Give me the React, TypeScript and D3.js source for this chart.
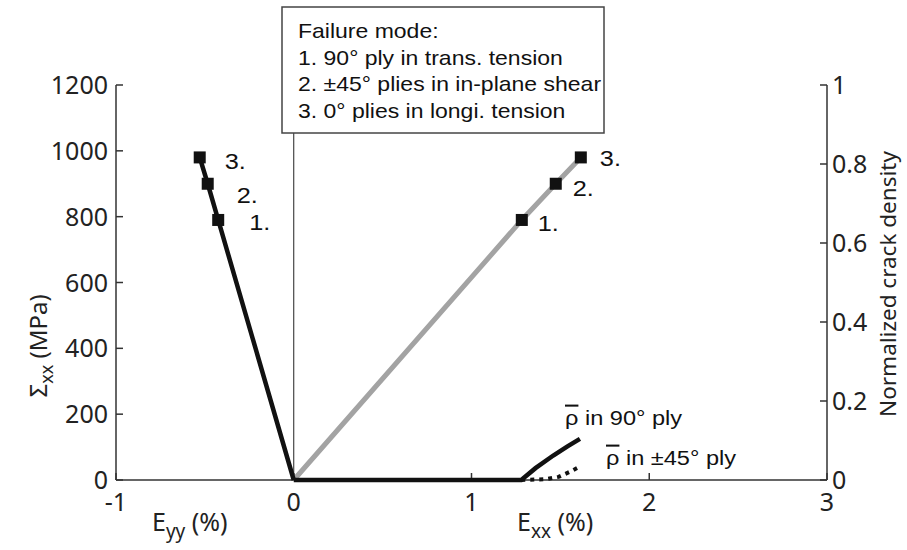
import * as d3 from "d3";

// left branch: transverse strain vs applied stress
const eyyValues = [0, -0.425, -0.484, -0.529];
const sigmaLeft = [0, 790, 900, 980];
// right branch: longitudinal strain vs applied stress
const exxValues = [0, 1.283, 1.474, 1.615];
const sigmaRight = [0, 790, 900, 980];
const failureLabels = ["1.", "2.", "3."];

// normalized crack density curves
const rho90Exx = [0, 1.28, 1.36, 1.46, 1.54, 1.61];
const rho90Values = [0, 0, 0.03, 0.062, 0.085, 0.104];
const rho45Exx = [1.28, 1.42, 1.49, 1.55, 1.61];
const rho45Values = [0, 0.002, 0.008, 0.02, 0.034];

const xTicks = [-1, 0, 1, 2, 3];
const yTicks = [0, 200, 400, 600, 800, 1000, 1200];
const yRightTicks = [0, 0.2, 0.4, 0.6, 0.8, 1];
const legendLines = [
  "Failure mode:",
  "1. 90° ply in trans. tension",
  "2. ±45° plies in in-plane shear",
  "3. 0° plies in longi. tension",
];

const width = 907;
const height = 550;
const margin = { top: 85, right: 80, bottom: 70, left: 116 };
const tickFont = "'Noto Sans', sans-serif";
const arialFont = "'Liberation Sans', Arial, sans-serif";
const STRETCH = 1.15;

type Pt = [number, number];

function Stretched({
  x,
  y,
  size,
  children,
}: {
  x: number;
  y: number;
  size: number;
  children: React.ReactNode;
}) {
  return (
    <g transform={`translate(${x},${y}) scale(${STRETCH},1)`}>
      <text fontFamily={arialFont} fontSize={size} fill="#111">
        {children}
      </text>
    </g>
  );
}

export default function App() {
  const x = d3
    .scaleLinear()
    .domain([-1, 3])
    .range([margin.left, width - margin.right]);
  const y = d3
    .scaleLinear()
    .domain([0, 1200])
    .range([height - margin.bottom, margin.top]);
  const yR = d3
    .scaleLinear()
    .domain([0, 1])
    .range([height - margin.bottom, margin.top]);

  const line = d3
    .line<Pt>()
    .x((d) => d[0])
    .y((d) => d[1]);

  const leftPts: Pt[] = eyyValues.map((v, i) => [x(v), y(sigmaLeft[i])]);
  const rightPts: Pt[] = exxValues.map((v, i) => [x(v), y(sigmaRight[i])]);
  const rho90Pts: Pt[] = rho90Exx.map((v, i) => [x(v), yR(rho90Values[i])]);
  const rho45Pts: Pt[] = rho45Exx.map((v, i) => [x(v), yR(rho45Values[i])]);

  const x0 = x(0);
  const yBase = y(0);
  const xL = x(-1);
  const xR = x(3);
  const boxBottom = 133;

  const leftOffsets: Pt[] = [
    [31, 10],
    [29, 19],
    [25, 12],
  ];
  const rightOffsets: Pt[] = [
    [16, 11],
    [17, 12],
    [19, 9],
  ];

  return (
    <svg
      width={width}
      height={height}
      style={{ position: "absolute", left: 0, top: 0, background: "#fff" }}
    >
      {/* axes */}
      <g stroke="#333" strokeWidth={1.5} fill="none">
        <line x1={xL} x2={xL} y1={yBase} y2={y(1200)} />
        <line x1={xR} x2={xR} y1={yBase} y2={yR(1)} />
        <line x1={xL} x2={xR} y1={yBase} y2={yBase} />
        {yTicks.map((t) => (
          <line key={t} x1={xL} x2={xL + 7} y1={y(t)} y2={y(t)} />
        ))}
        {yRightTicks.map((t) => (
          <line key={t} x1={xR} x2={xR - 7} y1={yR(t)} y2={yR(t)} />
        ))}
        {xTicks.map((t) => (
          <line key={t} x1={x(t)} x2={x(t)} y1={yBase} y2={yBase - 7} />
        ))}
      </g>
      <line x1={x0} x2={x0} y1={yBase} y2={boxBottom} stroke="#222" strokeWidth={1} />

      <g fontFamily={tickFont} fontSize={25} fill="#222">
        {yTicks.map((t) => (
          <text key={t} x={xL - 8} y={y(t) + 9} textAnchor="end">
            {t}
          </text>
        ))}
        {yRightTicks.map((t) => (
          <text key={t} x={xR + 5} y={yR(t) + 9}>
            {t}
          </text>
        ))}
        {xTicks.map((t) => (
          <text key={t} x={x(t)} y={yBase + 31} textAnchor="middle">
            {t}
          </text>
        ))}
      </g>

      {/* axis titles */}
      <g fontFamily={tickFont} fill="#222">
        <text
          transform={`translate(47,346) rotate(-90)`}
          textAnchor="middle"
          fontSize={24}
        >
          Σ<tspan fontSize={18} dy={6}>xx</tspan>
          <tspan dy={-6}> (MPa)</tspan>
        </text>
        <text
          transform={`translate(896,284) rotate(-90)`}
          textAnchor="middle"
          fontSize={22.5}
        >
          Normalized crack density
        </text>
        <text x={152} y={531} fontSize={25}>
          E<tspan fontSize={19} dy={7}>yy</tspan>
          <tspan dy={-7}> (%)</tspan>
        </text>
        <text x={517} y={531} fontSize={25}>
          E<tspan fontSize={19} dy={7}>xx</tspan>
          <tspan dy={-7}> (%)</tspan>
        </text>
      </g>

      {/* curves */}
      <path d={line(rightPts) ?? ""} fill="none" stroke="#a3a3a3" strokeWidth={5} />
      <path d={line(leftPts) ?? ""} fill="none" stroke="#111" strokeWidth={4.5} />
      <path d={line(rho90Pts) ?? ""} fill="none" stroke="#111" strokeWidth={4.5} />
      <path
        d={line(rho45Pts) ?? ""}
        fill="none"
        stroke="#111"
        strokeWidth={4}
        strokeDasharray="4 5"
      />

      {/* failure markers */}
      {[leftPts, rightPts].map((pts, k) =>
        pts.slice(1).map((p, i) => (
          <rect
            key={`${k}-${i}`}
            x={p[0] - 6}
            y={p[1] - 6}
            width={12}
            height={12}
            fill="#111"
          />
        )),
      )}
      {leftPts.slice(1).map((p, i) => (
        <Stretched
          key={`l${i}`}
          x={p[0] + leftOffsets[i][0]}
          y={p[1] + leftOffsets[i][1]}
          size={22}
        >
          {failureLabels[i]}
        </Stretched>
      ))}
      {rightPts.slice(1).map((p, i) => (
        <Stretched
          key={`r${i}`}
          x={p[0] + rightOffsets[i][0]}
          y={p[1] + rightOffsets[i][1]}
          size={22}
        >
          {failureLabels[i]}
        </Stretched>
      ))}

      {/* curve labels */}
      <Stretched x={565} y={425} size={20.5}>
        <tspan style={{ textDecoration: "overline" }}>ρ</tspan> in 90° ply
      </Stretched>
      <Stretched x={606} y={465} size={20.5}>
        <tspan style={{ textDecoration: "overline" }}>ρ</tspan> in ±45° ply
      </Stretched>

      {/* legend box */}
      <rect x={282} y={7} width={322} height={126} fill="#fff" stroke="#444" strokeWidth={1.5} />
      {legendLines.map((l, i) => (
        <Stretched key={l} x={298} y={38 + i * 26.7} size={20}>
          {l}
        </Stretched>
      ))}
    </svg>
  );
}
